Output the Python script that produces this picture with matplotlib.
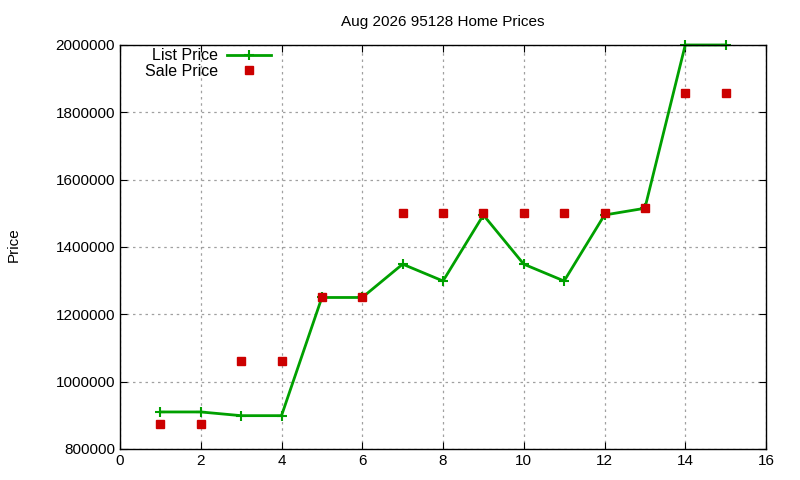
import numpy as np
import matplotlib
matplotlib.use("Agg")
import matplotlib.pyplot as plt

# data
idx = [1, 2, 3, 4, 5, 6, 7, 8, 9, 10, 11, 12, 13, 14, 15]
list_price = [910000, 910000, 899000, 899000, 1250000, 1250000, 1349000, 1299000,
              1495000, 1349000, 1299000, 1495000, 1515000, 2000000, 2000000]
sale_price = [875000, 875000, 1060000, 1060000, 1250000, 1250000, 1500000, 1500000,
              1500000, 1500000, 1500000, 1500000, 1515000, 1858000, 1858000]

plt.rcParams["font.family"] = ["Liberation Sans", "DejaVu Sans"]

fig = plt.figure(figsize=(8, 4.8), dpi=100)
ax = fig.add_axes([0.15, 0.0646, 0.8075, 0.8417])

ax.plot(idx, list_price, color="#00a000", lw=2, marker="+", ms=6.5, mew=1.5,
        label="List Price", clip_on=False)
ax.plot(idx, sale_price, ls="none", color="#cc0000", marker="s", ms=6,
        label="Sale Price", clip_on=False)

ax.set_xlim(0, 16)
ax.set_ylim(800000, 2000000)
ax.set_xticks(np.arange(0, 17, 2))
ax.set_yticks(np.arange(800000, 2000001, 200000))
ax.ticklabel_format(axis="y", style="plain", useOffset=False)
ax.grid(True, color="#a0a0a0", ls=(0, (2, 3)), lw=0.9)
ax.tick_params(direction="in", top=True, right=True, labelsize=11, length=5)
for s in ax.spines.values():
    s.set_linewidth(1)

ax.set_title("Aug 2026 95128 Home Prices", fontsize=11, pad=14)
fig.text(0.017, 0.49, "Price", rotation=90, fontsize=11, ha="center", va="center")

ax.legend(loc="upper left", bbox_to_anchor=(0.026, 1.012), frameon=False,
          markerfirst=False, fontsize=11.5, handlelength=2.7, labelspacing=0.05,
          borderaxespad=0.1, handletextpad=0.6)

fig.savefig("out.png", dpi=100)
